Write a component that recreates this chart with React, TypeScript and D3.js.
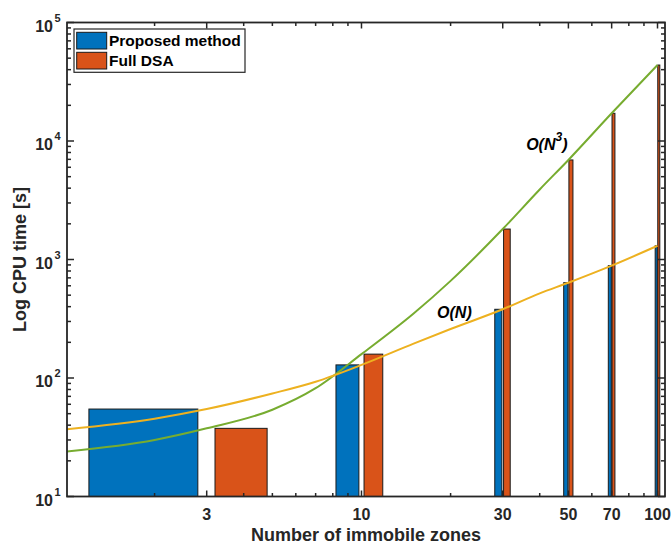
import React from "react";
import { scaleLog, line, curveMonotoneX } from "d3";

// bar groups
const zones = [3, 10, 30, 50, 70, 100];
const proposed = [54.7, 129, 380, 637, 887, 1306];
const fullDSA = [37.6, 159, 1807, 6920, 17130, 43750];

// complexity guide curves
const curveN = [1, 2, 3, 5, 7, 10, 15, 20, 30, 40, 50, 70, 100];
const orderN = [36.9, 45.4, 54.7, 74, 93, 129, 195, 259, 380, 518, 637, 887, 1306];
const orderN3 = [23.9, 30.0, 37.6, 54, 82, 159, 350, 660, 1807, 3900, 6920, 17130, 43750];

const xTicks = [3, 10, 30, 50, 70, 100];
const xMinor = [2, 4, 5, 6, 7, 8, 9, 20, 40, 60, 80, 90];
const yTicks = [10, 100, 1000, 10000, 100000];
const yExp = ["1", "2", "3", "4", "5"];

const W = 672;
const H = 545;
const left = 67;
const right = 665;
const top = 22.5;
const bottom = 496.5;

const axisColor = "#262626";
const font = "'Liberation Sans', Arial, sans-serif";

function App() {
  const x = scaleLog().domain([1.012, 106]).range([left, right]);
  const y = scaleLog().domain([10, 100000]).range([bottom, top]);

  const yMinor: number[] = [];
  for (let d = 10; d < 100000; d *= 10) {
    for (let k = 2; k <= 9; k++) yMinor.push(d * k);
  }

  const path = line<number>()
    .x((_, i) => x(curveN[i]))
    .y((d) => y(d))
    .curve(curveMonotoneX);

  return (
    <div style={{ position: "absolute", left: 0, top: 0 }}>
      <svg width={W} height={H} style={{ display: "block", background: "#fff" }}>
        <defs>
          <clipPath id="plot">
            <rect x={left} y={top} width={right - left} height={bottom - top} />
          </clipPath>
        </defs>

        <g clipPath="url(#plot)">
          {zones.map((c, i) => (
            <g key={c}>
              <rect
                x={x(c - 1.8)}
                width={x(c - 0.2) - x(c - 1.8)}
                y={y(proposed[i])}
                height={bottom - y(proposed[i])}
                fill="#0072BD"
                stroke="#1a1a1a"
                strokeWidth={1}
              />
              <rect
                x={x(c + 0.2)}
                width={x(c + 1.8) - x(c + 0.2)}
                y={y(fullDSA[i])}
                height={bottom - y(fullDSA[i])}
                fill="#D95319"
                stroke="#1a1a1a"
                strokeWidth={1}
              />
            </g>
          ))}
          <path d={path(orderN3) || ""} fill="none" stroke="#77AC30" strokeWidth={2} />
          <path d={path(orderN) || ""} fill="none" stroke="#EDB120" strokeWidth={2} />
        </g>

        {/* annotations */}
        <text
          x={x(36)}
          y={y(8400)}
          fontFamily={font}
          fontSize={16}
          fontWeight="bold"
          fontStyle="italic"
          fill="#000"
        >
          O(N<tspan dy={-9} fontSize={12}>3</tspan>
          <tspan dy={9}>)</tspan>
        </text>
        <text
          x={x(18)}
          y={y(324)}
          fontFamily={font}
          fontSize={16}
          fontWeight="bold"
          fontStyle="italic"
          fill="#000"
        >
          O(N)
        </text>

        {/* axes box */}
        <rect
          x={left}
          y={top}
          width={right - left}
          height={bottom - top}
          fill="none"
          stroke={axisColor}
          strokeWidth={1.8}
        />

        {/* x ticks */}
        {xTicks.map((t) => (
          <g key={"xt" + t}>
            <line x1={x(t)} x2={x(t)} y1={bottom} y2={bottom - 6} stroke={axisColor} strokeWidth={1.5} />
            <line x1={x(t)} x2={x(t)} y1={top} y2={top + 6} stroke={axisColor} strokeWidth={1.5} />
            <text
              x={x(t)}
              y={519.5}
              textAnchor="middle"
              fontFamily={font}
              fontSize={16}
              fontWeight="bold"
              fill={axisColor}
            >
              {t}
            </text>
          </g>
        ))}
        {xMinor.map((t) => (
          <g key={"xm" + t}>
            <line x1={x(t)} x2={x(t)} y1={bottom} y2={bottom - 3.5} stroke={axisColor} strokeWidth={1.5} />
            <line x1={x(t)} x2={x(t)} y1={top} y2={top + 3.5} stroke={axisColor} strokeWidth={1.5} />
          </g>
        ))}

        {/* y ticks */}
        {yTicks.map((t, i) => (
          <g key={"yt" + t}>
            <line x1={left} x2={left + 7} y1={y(t)} y2={y(t)} stroke={axisColor} strokeWidth={1.5} />
            <line x1={right} x2={right - 7} y1={y(t)} y2={y(t)} stroke={axisColor} strokeWidth={1.5} />
            <text
              x={53}
              y={y(t) + 9}
              textAnchor="end"
              fontFamily={font}
              fontSize={16}
              fontWeight="bold"
              fill={axisColor}
            >
              10
            </text>
            <text
              x={54.5}
              y={y(t) - 1}
              fontFamily={font}
              fontSize={11}
              fontWeight="bold"
              fill={axisColor}
            >
              {yExp[i]}
            </text>
          </g>
        ))}
        {yMinor.map((t) => (
          <g key={"ym" + t}>
            <line x1={left} x2={left + 4} y1={y(t)} y2={y(t)} stroke={axisColor} strokeWidth={1.5} />
            <line x1={right} x2={right - 4} y1={y(t)} y2={y(t)} stroke={axisColor} strokeWidth={1.5} />
          </g>
        ))}

        {/* axis titles */}
        <text
          x={(left + right) / 2}
          y={540.5}
          textAnchor="middle"
          fontFamily={font}
          fontSize={18}
          fontWeight="bold"
          fill={axisColor}
        >
          Number of immobile zones
        </text>
        <text
          transform={`translate(26,${(top + bottom) / 2}) rotate(-90)`}
          textAnchor="middle"
          fontFamily={font}
          fontSize={18}
          fontWeight="bold"
          fill={axisColor}
        >
          Log CPU time [s]
        </text>

        {/* legend */}
        <g>
          <rect x={74} y={29} width={171} height={43.3} fill="#fff" stroke={axisColor} strokeWidth={1.2} />
          <rect x={76.7} y={32.3} width={30} height={16.7} fill="#0072BD" stroke="#1a1a1a" strokeWidth={1} />
          <rect x={76.7} y={52.3} width={30} height={16.7} fill="#D95319" stroke="#1a1a1a" strokeWidth={1} />
          <text x={109} y={46} fontFamily={font} fontSize={15.5} fontWeight="bold" fill="#000">
            Proposed method
          </text>
          <text x={109} y={66} fontFamily={font} fontSize={15.5} fontWeight="bold" fill="#000">
            Full DSA
          </text>
        </g>
      </svg>
    </div>
  );
}

export default App;
